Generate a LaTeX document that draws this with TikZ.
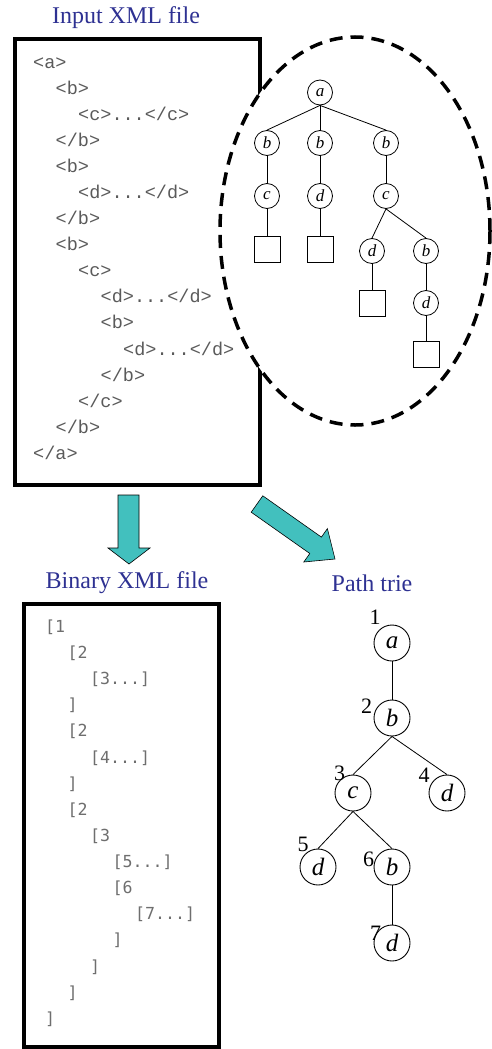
\documentclass[tikz,border=0pt]{standalone}
\usepackage{fontspec}
\setmainfont{Liberation Serif}
\newfontfamily\xmlfont{Liberation Mono}
\newfontfamily\binfont{DejaVu Sans Mono}
\definecolor{titleblue}{RGB}{46,49,146}
\definecolor{arrteal}{RGB}{66,192,190}
\definecolor{xmlgray}{RGB}{90,90,90}
\definecolor{bingray}{RGB}{110,110,110}
\tikzset{
  title/.style={text=titleblue, font=\fontsize{24}{28}\selectfont, inner sep=0pt},
  xml/.style={anchor=mid west, text=xmlgray, font=\xmlfont\fontsize{18.5}{20}\selectfont, inner sep=0pt},
  bin/.style={anchor=mid west, text=bingray, font=\binfont\fontsize{16.6}{18}\selectfont, inner sep=0pt},
  filebox/.style={draw=black, line width=4pt},
  tn/.style={circle, draw=black, line width=0.8pt, minimum size=25pt, inner sep=0pt, fill=white, font=\itshape\fontsize{17}{18}\selectfont},
  leaf/.style={draw=black, line width=0.8pt, minimum size=26pt, inner sep=0pt},
  tedge/.style={draw=black, line width=0.8pt},
  pn/.style={circle, draw=black, line width=0.9pt, minimum size=36pt, inner sep=0pt, font=\itshape\fontsize{25}{27}\selectfont},
  num/.style={font=\fontsize{22}{24}\selectfont, inner sep=0pt},
  blockarrow/.style={fill=arrteal, draw=black, line width=0.6pt, line join=miter}
}
\begin{document}
\begin{tikzpicture}[x=1pt,y=-1pt]
\useasboundingbox (0,0) rectangle (491,1049);

% ---------- titles
\node[title] (tin) at (126,18) {Input XML file};
\node[title] (tbin) at (127,583) {Binary XML file};
\node[title] (tpath) at (372,583) {Path trie};

% ---------- input XML box
\draw[filebox] (14.5,39.5) rectangle (260,484.5);
\draw[black, line width=3.5pt, dash pattern=on 13pt off 8pt, fill=white]
  (355,231) ellipse [x radius=135pt, y radius=194pt];

\node[xml] (x1)  at (33,66)    {<a>};
\node[xml] (x2)  at (55.5,92.1)  {<b>};
\node[xml] (x3)  at (78,118.1)   {<c>...</c>};
\node[xml] (x4)  at (55.5,144.2) {</b>};
\node[xml] (x5)  at (55.5,170.3) {<b>};
\node[xml] (x6)  at (78,196.4)   {<d>...</d>};
\node[xml] (x7)  at (55.5,222.4) {</b>};
\node[xml] (x8)  at (55.5,248.5) {<b>};
\node[xml] (x9)  at (78,274.6)   {<c>};
\node[xml] (x10) at (100.5,300.6) {<d>...</d>};
\node[xml] (x11) at (100.5,326.7) {<b>};
\node[xml] (x12) at (123,352.8)  {<d>...</d>};
\node[xml] (x13) at (100.5,378.8) {</b>};
\node[xml] (x14) at (78,404.9)   {</c>};
\node[xml] (x15) at (55.5,431)   {</b>};
\node[xml] (x16) at (33,457)     {</a>};

% ---------- document tree inside ellipse
\node[tn] (ta)  at (320,92.5) {a};
\node[tn] (tb1) at (267,143) {b};
\node[tn] (tb2) at (320,143) {b};
\node[tn] (tb3) at (386,143) {b};
\node[tn] (tc1) at (267,196) {c};
\node[tn] (td2) at (320,196) {d};
\node[tn] (tc3) at (386,196) {c};
\node[leaf] (s1) at (267,249) {};
\node[leaf] (s2) at (320,249) {};
\node[tn] (td31) at (372,251) {d};
\node[tn] (tb32) at (426,251) {b};
\node[leaf] (s3) at (372,303) {};
\node[tn] (td33) at (426,303) {d};
\node[leaf] (s4) at (426,354) {};

\draw[tedge] (ta.south) -- (tb1.north);
\draw[tedge] (ta.south) -- (tb2.north);
\draw[tedge] (ta.south) -- (tb3.north);
\draw[tedge] (tb1) -- (tc1);
\draw[tedge] (tb2) -- (td2);
\draw[tedge] (tb3) -- (tc3);
\draw[tedge] (tc1) -- (s1);
\draw[tedge] (td2) -- (s2);
\draw[tedge] (tc3.south) -- (td31.north);
\draw[tedge] (tc3.south) -- (tb32.north);
\draw[tedge] (td31) -- (s3);
\draw[tedge] (tb32) -- (td33);
\draw[tedge] (td33) -- (s4);

% ---------- block arrows
\draw[blockarrow] (118,495) -- (139,495) -- (139,548) -- (150,548) -- (129,564)
  -- (108,548) -- (118,548) -- cycle;
\draw[blockarrow] (262.8,495.8) -- (321.4,537.1) -- (327.4,528.6) -- (335,559)
  -- (303.8,562.0) -- (309.8,553.5) -- (251.2,512.2) -- cycle;

% ---------- binary XML box
\draw[filebox] (24,604) rectangle (219,1046.5);
\node[bin] (y1)  at (45,630)     {[1};
\node[bin] (y2)  at (67.5,656.1) {[2};
\node[bin] (y3)  at (90,682.3)   {[3...]};
\node[bin] (y4)  at (67.5,708.4) {]};
\node[bin] (y5)  at (67.5,734.5) {[2};
\node[bin] (y6)  at (90,760.7)   {[4...]};
\node[bin] (y7)  at (67.5,786.8) {]};
\node[bin] (y8)  at (67.5,812.9) {[2};
\node[bin] (y9)  at (90,839)     {[3};
\node[bin] (y10) at (112.5,865.2) {[5...]};
\node[bin] (y11) at (112.5,891.3) {[6};
\node[bin] (y12) at (135,917.4)  {[7...]};
\node[bin] (y13) at (112.5,943.6) {]};
\node[bin] (y14) at (90,969.7)   {]};
\node[bin] (y15) at (67.5,995.8) {]};
\node[bin] (y16) at (45,1022)    {]};

% ---------- path trie
\node[pn] (p1) at (392,643) {a};
\node[pn] (p2) at (392,718) {b};
\node[pn] (p3) at (353,793) {c};
\node[pn] (p4) at (447,793) {d};
\node[pn] (p5) at (318,867) {d};
\node[pn] (p6) at (392,867) {b};
\node[pn] (p7) at (392,943) {d};

\draw[tedge] (p1) -- (p2);
\draw[tedge] (p2.south) -- (p3.north);
\draw[tedge] (p2.south) -- (p4.north);
\draw[tedge] (p3.south) -- (p5.north);
\draw[tedge] (p3.south) -- (p6.north);
\draw[tedge] (p6) -- (p7);

\node[num] (n1) at (375,617) {1};
\node[num] (n2) at (366.5,706) {2};
\node[num] (n3) at (339.5,773) {3};
\node[num] (n4) at (424,775) {4};
\node[num] (n5) at (303,844) {5};
\node[num] (n6) at (368.5,859) {6};
\node[num] (n7) at (375.5,933) {7};
\end{tikzpicture}
\end{document}
